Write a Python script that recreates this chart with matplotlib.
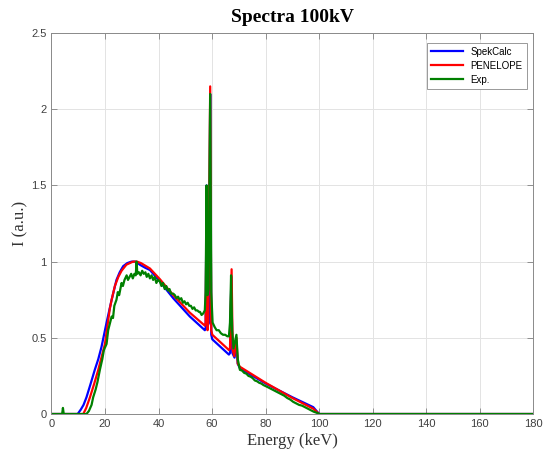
import matplotlib
matplotlib.use("Agg")
import matplotlib.pyplot as plt

# SpekCalc simulation (smooth)
spek_e = [0, 9.8, 11, 12, 13.1, 14.5, 16.2, 17.5, 18.7, 20.6, 22.5, 24.3, 25.5, 26.8, 28.3, 29.9,
          31.5, 33, 35, 36.8, 40.5, 45.5, 51.7, 57.3, 57.6, 57.95, 58.3, 58.9, 59.3, 59.7, 60.1,
          66.3, 66.7, 67.2, 67.6, 68.4, 69.1, 69.6, 70.4, 80, 90, 97.8, 100, 180]
spek_i = [0, 0, 0.03, 0.06, 0.11, 0.19, 0.29, 0.36, 0.44, 0.60, 0.75, 0.88, 0.93, 0.97, 0.99, 1.0,
          1.0, 0.98, 0.96, 0.945, 0.87, 0.76, 0.64, 0.55, 0.56, 1.50, 0.58, 0.60, 2.10, 0.52, 0.49,
          0.39, 0.40, 0.90, 0.40, 0.37, 0.45, 0.33, 0.30, 0.20, 0.11, 0.045, 0.0, 0.0]

# PENELOPE simulation
pen_e = [0, 11.9, 13, 14.4, 16, 17.5, 20, 21.8, 22.5, 23.7, 25, 26.2, 28, 30.5, 32, 33.5,
         36.8, 40.5, 45.5, 51.7, 57.3, 57.6, 57.95, 58.3, 58.6, 59.3, 59.7, 60.1,
         66.3, 66.7, 67.3, 67.7, 68.3, 69.1, 69.6, 70.4, 80, 90, 97.8, 100, 180]
pen_i = [0, 0, 0.04, 0.11, 0.20, 0.29, 0.46, 0.69, 0.75, 0.84, 0.90, 0.94, 0.98, 1.0, 1.0, 0.99,
         0.955, 0.885, 0.78, 0.665, 0.58, 0.60, 1.40, 0.55, 0.60, 2.15, 0.55, 0.52,
         0.42, 0.43, 0.95, 0.42, 0.38, 0.50, 0.33, 0.31, 0.205, 0.105, 0.035, 0.0, 0.0]

# Experimental spectrum
exp_e = [0, 4.0, 4.3, 4.6, 13.1, 14, 15, 15.6, 16.5, 17.2, 18.1, 19, 19.6, 20.6, 21.2, 22.5,
         23.0, 23.5, 24.3, 24.8, 25.3, 26.2, 26.7, 27.3, 28.1, 28.6, 29.2, 29.8, 30.4, 31.0,
         31.5, 31.8, 32.1, 32.7, 33.3, 33.9, 34.5, 35.1, 35.6, 36.2, 36.8, 37.4, 38.0, 38.6,
         39.2, 39.8, 40.5, 41.1, 41.7, 42.3, 42.9, 43.5, 44.1, 44.7, 45.5, 46.1, 46.7, 47.3,
         47.9, 48.5, 49.1, 49.7, 50.3, 50.9, 51.5, 52.1, 52.7, 53.3, 53.9, 54.5, 55.1, 55.5,
         56.1, 56.7, 57.3, 57.6, 57.95, 58.3, 58.7, 59.3, 59.7, 60.2, 61.0, 61.7, 62.5, 63.3,
         64.1, 64.9, 65.7, 66.3, 66.7, 67.1, 67.5, 68.0, 68.6, 69.1, 69.6, 70.4, 71.2, 72.0,
         72.8, 73.6, 74.4, 75.2, 76.0, 76.8, 77.6, 78.4, 79.2, 80.4, 81.5, 82.6, 83.7, 84.8,
         85.9, 87.0, 88.1, 89.2, 90.3, 91.4, 92.5, 93.6, 94.7, 95.8, 96.9, 98.0, 99.6, 100, 180]
exp_i = [0, 0, 0.04, 0, 0, 0.02, 0.06, 0.11, 0.16, 0.21, 0.29, 0.36, 0.42, 0.46, 0.55, 0.64,
         0.63, 0.71, 0.75, 0.80, 0.78, 0.86, 0.84, 0.88, 0.91, 0.88, 0.90, 0.92, 0.89, 0.92,
         0.91, 1.00, 0.92, 0.93, 0.91, 0.94, 0.92, 0.93, 0.90, 0.92, 0.89, 0.91, 0.88, 0.90,
         0.86, 0.88, 0.87, 0.84, 0.86, 0.82, 0.84, 0.81, 0.82, 0.79, 0.79, 0.78, 0.76, 0.77,
         0.75, 0.76, 0.73, 0.74, 0.72, 0.73, 0.71, 0.71, 0.69, 0.70, 0.68, 0.68, 0.67, 0.67,
         0.65, 0.66, 0.68, 0.80, 1.50, 0.78, 0.82, 2.10, 0.80, 0.60, 0.57, 0.55, 0.55, 0.53,
         0.52, 0.52, 0.51, 0.51, 0.60, 0.91, 0.55, 0.43, 0.48, 0.52, 0.36, 0.29, 0.285, 0.27,
         0.265, 0.25, 0.245, 0.235, 0.22, 0.215, 0.205, 0.20, 0.19, 0.18, 0.17, 0.16, 0.15, 0.14,
         0.13, 0.12, 0.105, 0.095, 0.08, 0.07, 0.06, 0.055, 0.045, 0.035, 0.025, 0.015, 0.005, 0.0, 0.0]

x_ticks = list(range(0, 181, 20))
y_ticks = [0, 0.5, 1, 1.5, 2, 2.5]

fig = plt.figure(figsize=(5.47, 4.59), dpi=100)
ax = fig.add_axes([0.094, 0.098, 0.881, 0.830])

ax.plot(spek_e, spek_i, color="#0000ff", lw=1.6, label="SpekCalc")
ax.plot(pen_e, pen_i, color="#ff0000", lw=1.6, label="PENELOPE")
ax.plot(exp_e, exp_i, color="#008000", lw=1.6, label="Exp.")

ax.set_xlim(0, 180)
ax.set_ylim(0, 2.5)
ax.set_xticks(x_ticks)
ax.set_yticks(y_ticks)
ax.set_yticklabels(["0", "0.5", "1", "1.5", "2", "2.5"])
ax.grid(True, color="#e3e3e3", lw=0.7)
ax.set_axisbelow(True)
ax.tick_params(direction="in", length=4, width=0.6, colors="#808080", labelcolor="#404040",
               labelsize=8, top=True, right=True)
for lbl in ax.get_xticklabels() + ax.get_yticklabels():
    lbl.set_fontfamily("Liberation Sans")
for sp in ax.spines.values():
    sp.set_color("#8a8a8a")
    sp.set_linewidth(0.7)

ax.set_title("Spectra 100kV", fontfamily="Liberation Serif", fontweight="bold", fontsize=14, pad=8)
ax.set_xlabel("Energy (keV)", fontfamily="Liberation Serif", fontsize=12, color="#333333", labelpad=3)
ax.set_ylabel("I (a.u.)", fontfamily="Liberation Serif", fontsize=12, color="#333333", labelpad=2)

leg = ax.legend(loc="upper right", bbox_to_anchor=(0.986, 0.974), borderaxespad=0,
                prop={"family": "Liberation Sans", "size": 7}, handlelength=3.3,
                fancybox=False, framealpha=1, edgecolor="#999999", labelspacing=0.4)
leg.get_frame().set_linewidth(0.7)

fig.savefig("out.png", dpi=100)
